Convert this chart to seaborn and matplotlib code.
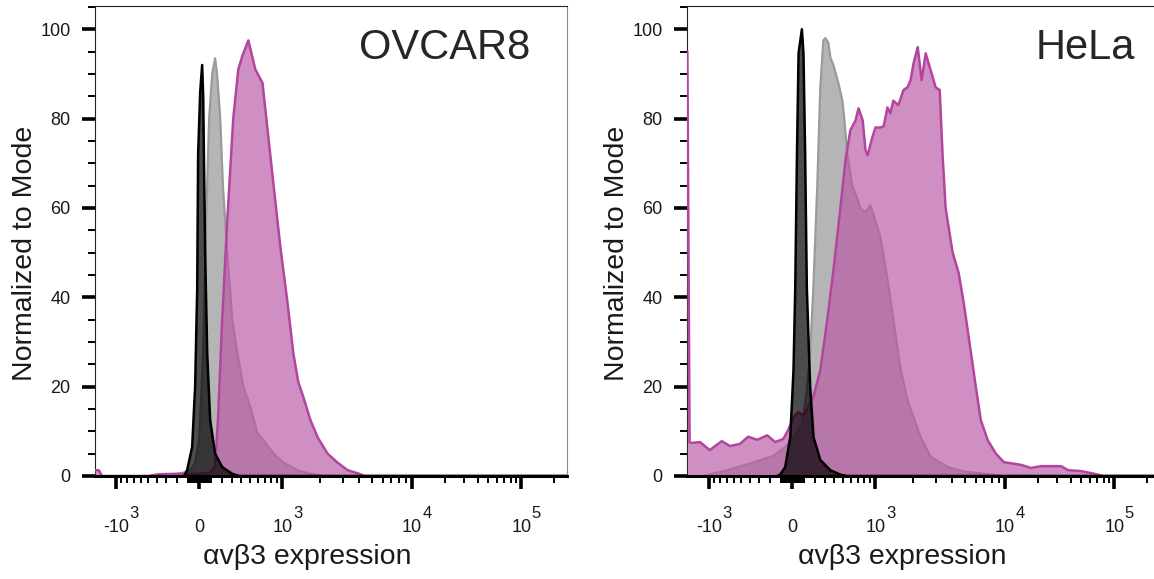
import numpy as np
import seaborn as sns
import matplotlib.pyplot as plt
import matplotlib.transforms as mtransforms

# ---- OVCAR8 histograms (x = avb3 signal, y = % of mode) ----
ovcar_iso_x = [-132, -105, -61, -35, -17, -9, 9, 26, 35, 52, 70, 96, 140, 205, 303, 376, 262144]
ovcar_iso_y = [0, 1.3, 6.5, 20, 42, 72, 86, 92, 85, 50, 27.5, 12.5, 5, 2, 0.5, 0, 0]

ovcar_ctrl_x = [-224, -132, -70, -35, 0, 35, 61, 87, 114, 140, 158, 187, 212, 253, 303, 355,
                422, 504, 594, 680, 840, 1020, 1325, 1685, 2175, 262144]
ovcar_ctrl_y = [0.3, 0.8, 1.5, 3, 8, 28, 58, 80, 90, 93.5, 90, 80, 65, 50, 35, 27.5,
                20, 15.5, 9.6, 8, 5, 3, 1.3, 0.5, 0, 0]

ovcar_av_x = [-1480, -1380, -1300, -504, -376, -177, 0, 87, 140, 166, 205, 253, 313, 366,
              410, 480, 568, 666, 738, 840, 963, 1100, 1230, 1350, 1480, 1685, 1915,
              2290, 2730, 3260, 3890, 4400, 262144]
ovcar_av_y = [1.3, 1.3, 0, 0, 0.4, 0.5, 0.5, 0.7, 2, 12.5, 35, 57, 80, 91,
              94, 97.5, 91, 88, 78, 65, 51, 39, 27.5, 21, 17.7, 12.5, 8.7,
              5, 3, 1.3, 0.6, 0, 0]

# ---- HeLa histograms ----
hela_iso_x = [-132, -105, -61, -17, 11, 26, 41, 55, 84, 98, 113, 128, 158, 189, 253, 355, 468, 553, 262144]
hela_iso_y = [0, 0.3, 2, 8.7, 23.7, 42, 72, 94.6, 100, 94.6, 72, 42, 20, 8.7, 3.6, 1.3, 0.3, 0, 0]

hela_ctrl_x = [-1120, -693, -366, -168, -61, 0, 43, 87, 122, 158, 187, 224, 253, 283, 303,
               334, 355, 388, 444, 492, 517, 553, 620, 693, 738, 820, 905, 1000, 1100,
               1255, 1400, 1595, 1810, 2290, 2735, 3690, 4880, 7415, 9630, 262144]
hela_ctrl_y = [0, 1.3, 3, 4.5, 6.5, 8, 10, 12, 18, 27.5, 42, 65, 87, 97.5, 98,
               97, 93.7, 92, 88, 84, 79.6, 72, 65, 62, 60, 59, 60.6, 57, 53.5,
               44, 35, 24, 17, 8.7, 4.3, 2, 1, 0.4, 0, 0]

hela_av_x = [-1500, -1440, -1380, -1188, -985, -775, -650, -517, -421, -323, -224, -150,
             -78, -35, 9, 52, 96, 140, 187, 253, 323, 388, 468, 530, 594, 666, 710,
             775, 820, 857, 940, 1000, 1100, 1170, 1255, 1325, 1400, 1535, 1685, 1810,
             1915, 2020, 2175, 2330, 2505, 2735, 2985, 3205, 3370, 3555, 4020, 4470,
             4880, 5325, 6020, 6565, 7415, 8535, 9805, 13980, 17300, 21350, 32600,
             37800, 49750, 65450, 79100, 262144]
hela_av_y = [95, 7.5, 7.4, 7.6, 5.8, 7.8, 6.7, 7.2, 8.8, 8.1, 9.1, 7.6,
             8.3, 10.3, 13, 14.3, 13.5, 15.5, 17.7, 23.7, 35, 46, 60, 70.7, 77.4, 79.6, 82.3,
             79.6, 73, 71.8, 75.8, 78, 78, 78.3, 82.5, 81.2, 84, 83, 86.4, 87,
             88.6, 92.4, 96, 88.6, 94.6, 90.8, 87, 86.4, 72, 60, 50, 45.4,
             38.7, 31, 20, 12.5, 8, 5, 3.1, 2.5, 1.8, 2.2, 2.2,
             1.3, 1.1, 0.5, 0, 0]

cell_lines = ['OVCAR8', 'HeLa']
x_major = [-1000, 0, 1000, 10000, 100000]
x_major_base = ['-10', '0', '10', '10', '10']
x_major_exp = ['3', '', '3', '4', '5']

sns.set_style('ticks')
plt.rcParams['font.family'] = ['Liberation Sans', 'DejaVu Sans']

# biexponential-ish display axis (arcsinh, log part a bit squeezed)
T_KNEE = np.arcsinh(20)
SQUEEZE = 0.823


def biex(x):
    t = np.arcsinh(np.asarray(x, dtype=float) / 500.0)
    return np.where(t > T_KNEE, T_KNEE + (t - T_KNEE) * SQUEEZE, t)


def biex_inv(u):
    u = np.asarray(u, dtype=float)
    t = np.where(u > T_KNEE, T_KNEE + (u - T_KNEE) / SQUEEZE, u)
    return 500.0 * np.sinh(t)


# minor tick positions on the x axis
x_minor = [s * k * 10 ** n for n in (1, 2) for k in range(1, 10) for s in (-1, 1)]
x_minor += [k * 10 ** n for n in (3, 4) for k in range(2, 10)] + [200000]
x_minor = [v for v in x_minor if v not in (-1000, 1000)]

fig = plt.figure(figsize=(11.54, 5.79), dpi=100)
ax_l = fig.add_axes([95 / 1154, 103 / 579, 472 / 1154, 470 / 579])
ax_r = fig.add_axes([687 / 1154, 103 / 579, 473 / 1154, 470 / 579])

panels = [
    (ax_l, ovcar_ctrl_x, ovcar_ctrl_y, ovcar_av_x, ovcar_av_y, ovcar_iso_x, ovcar_iso_y,
     -1480, 0.922, 0.449),
    (ax_r, hela_ctrl_x, hela_ctrl_y, hela_av_x, hela_av_y, hela_iso_x, hela_iso_y,
     -1510, 0.947, 0.455),
]

for (ax, cx, cy, ax_, ay, ix, iy, xmin, title_x, xlab_x), name in zip(panels, cell_lines):
    ax.set_xscale('function', functions=(biex, biex_inv))

    # control (gray)
    ax.fill_between(cx, cy, 0, color='#b5b5b5', linewidth=0, zorder=1)
    sns.lineplot(x=cx, y=cy, ax=ax, color='#9a9a9a', linewidth=1.6, estimator=None, sort=False, zorder=2)

    # avb3 stain (magenta)
    ax.fill_between(ax_, ay, 0, color='#ba5aa5', alpha=0.68, linewidth=0, zorder=3)
    sns.lineplot(x=ax_, y=ay, ax=ax, color='#b4459e', linewidth=1.8, estimator=None, sort=False, zorder=4)

    # isotype (black)
    ax.fill_between(ix, iy, 0, color='#000000', alpha=0.7, linewidth=0, zorder=5)
    sns.lineplot(x=ix, y=iy, ax=ax, color='#000000', linewidth=1.8, estimator=None, sort=False, zorder=6)

    ax.set_xlim(xmin, 262144)
    ax.set_ylim(0, 105.2)

    ax.set_xticks(x_major)
    ax.set_xticklabels([])
    ax.set_xticks(x_minor, minor=True)
    ax.set_yticks([0, 20, 40, 60, 80, 100])
    ax.set_yticks([v for v in range(5, 106, 5) if v % 20 != 0], minor=True)

    ax.tick_params(axis='both', which='major', direction='out', length=9.5, width=2.6,
                   color='black', labelsize=13, labelcolor='#1a1a1a')
    ax.tick_params(axis='both', which='minor', direction='out', length=5, width=1.4, color='black')
    ax.tick_params(axis='y', which='major', pad=8)

    # x tick labels written as base + raised exponent, like the cytometry software does
    trans = mtransforms.blended_transform_factory(ax.transData, ax.transAxes)
    for xv, base, ex in zip(x_major, x_major_base, x_major_exp):
        ax.text(xv, -0.119, base, transform=trans, ha='center', va='baseline',
                fontsize=13, color='#1a1a1a', clip_on=False)
        if ex:
            shift = 7.5 if base == '10' else 9.5
            t_exp = mtransforms.offset_copy(trans, fig=fig, x=shift, y=0, units='points')
            ax.text(xv, -0.089, ex, transform=t_exp, ha='left', va='baseline',
                    fontsize=12, color='#1a1a1a', clip_on=False)

    for side in ['left', 'top']:
        ax.spines[side].set_linewidth(0.8)
        ax.spines[side].set_color('#222222')
    ax.spines['right'].set_linewidth(0.8)
    ax.spines['right'].set_color('#888888')
    ax.spines['bottom'].set_linewidth(2.2)
    ax.spines['bottom'].set_color('black')
    ax.spines['bottom'].set_zorder(10)

    ax.set_xlabel('αvβ3 expression', fontsize=20.5, color='#1a1a1a')
    ax.xaxis.label.set_va('center')
    ax.xaxis.set_label_coords(xlab_x, -0.172)
    ax.set_ylabel('Normalized to Mode', fontsize=20.5, color='#1a1a1a')
    ax.yaxis.label.set_va('center')
    ax.yaxis.set_label_coords(-0.148, 0.474)

    ax.text(title_x, 0.887, name, transform=ax.transAxes, ha='right', va='baseline',
            fontsize=30, color='#262626')

fig.savefig('out.png', dpi=100, facecolor='white')
